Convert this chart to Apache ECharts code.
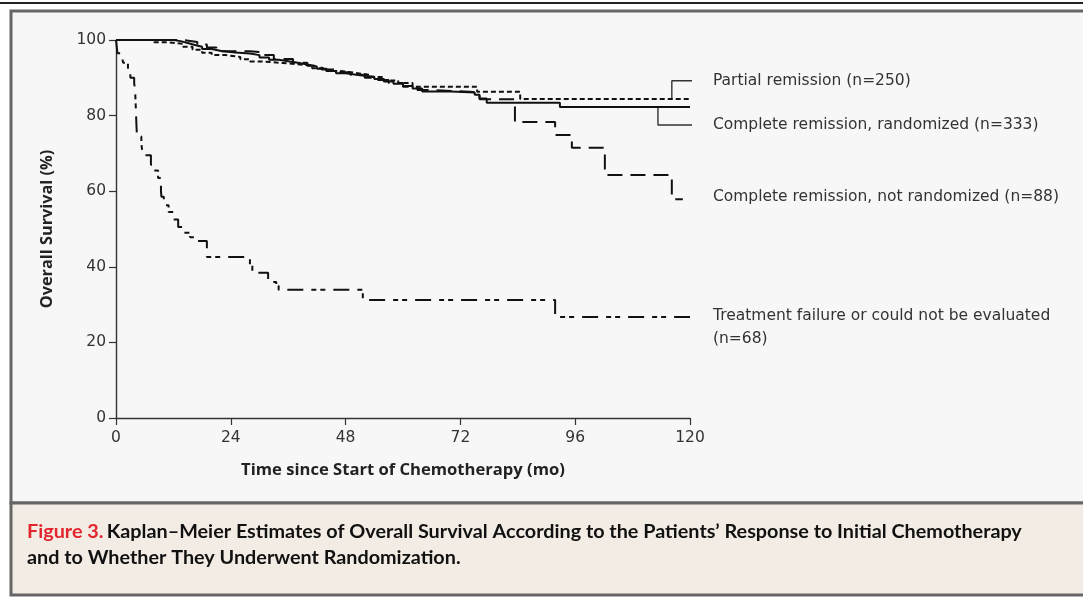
<!DOCTYPE html>
<html>
<head>
<meta charset="utf-8">
<script src="https://cdn.jsdelivr.net/npm/echarts@6/dist/echarts.min.js"></script>
<style>
html,body{margin:0;padding:0;background:#fff;}
#main{width:1083px;height:600px;}
</style>
</head>
<body>
<div id="main"></div>
<script>
// ---- data (time in months, survival in %) ----
const xTicks = [0, 24, 48, 72, 96, 120];
const yTicks = [0, 20, 40, 60, 80, 100];

const partialRemission = [[0,100],[8,99.4],[11,99],[14,98.2],[16,97.4],[18,96.6],[20,96],[23,95.5],[26,94.9],[28,94.3],[31,93.9],[35,93.6],[38,93.2],[41,92.5],[44,91.8],[47,91.3],[50,90.8],[53,90.2],[56,89.3],[59,88.6],[62,87.6],[75.5,86.3],[84.5,84.4],[120,84.4]];

const completeRandomized = [[0,100],[11,100],[12,99.7],[13.5,99.2],[15,98.7],[16.5,98.2],[18,97.6],[20,97.1],[22,96.7],[25,96.4],[28,96.0],[30,95.4],[32,94.8],[34,94.4],[36,94.0],[38,93.5],[40,93.0],[42,92.4],[44,91.8],[46,91.2],[48,90.7],[51,90.3],[54,89.7],[56,89.0],[58,88.4],[60,87.8],[62,87.2],[64,86.4],[70,86.1],[75,85.5],[76,84.5],[77.5,83.4],[92.8,82.3],[120,82.3]];

const completeNotRandomized = [[0,100],[12,100],[14,99.5],[17,98.8],[19,98],[21,97],[28,96.8],[30,96],[33,95],[37,94],[40,93.2],[43,92.2],[46,91.5],[49,90.8],[52,90],[54,89.4],[57,88.6],[60,87.6],[63,86.8],[66,86.3],[74,86],[76,84.3],[83.4,78.3],[91.8,74.9],[95.3,71.5],[102.2,64.3],[116.2,57.9],[118.5,57.9]];

const treatmentFailure = [[0,100],[0.3,96.5],[1.2,95.5],[1.5,94],[2.5,92],[3,90],[3.8,88.6],[4,86.7],[4.2,80],[4.3,76.7],[4.4,74.5],[5.3,72.5],[5.6,69.5],[7.3,67],[7.8,65.5],[8.8,63.5],[9.4,60],[9.5,58.5],[10,56.3],[11,54.5],[12,52.5],[13,50.5],[14,49],[15.5,47.8],[17,46.8],[19,42.6],[28,40.5],[28.5,38.4],[31.8,36],[33.5,35],[34,33.9],[51.6,31.2],[91.8,26.7],[120,26.7]];

// leader lines (data coordinates)
const leaderPartial = [[116.2,84.4],[116.2,89.2],[124.4,89.2]];
const leaderRandomized = [[113.3,82.3],[113.3,77.5],[124.4,77.5]];

const labels = [
  {text:'Partial remission (n=250)', at:[124.8,89.2]},
  {text:'Complete remission, randomized (n=333)', at:[124.8,77.5]},
  {text:'Complete remission, not randomized (n=88)', at:[124.8,58.4]},
  {text:'Treatment failure or could not be evaluated', at:[124.8,27]},
  {text:'(n=68)', at:[124.8,21]}
];

const captionRed = 'Figure 3.';
const captionLine1 = 'Kaplan\u2013Meier Estimates of Overall Survival According to the Patients\u2019 Response to Initial Chemotherapy';
const captionLine2 = 'and to Whether They Underwent Randomization.';

const FONT = 'DejaVu Sans';
const NAMEFONT = 'Open Sans';
const CAPFONT = 'Lato';

const chart = echarts.init(document.getElementById('main'), null, {renderer:'canvas'});

function kmSeries(name, data, type, width) {
  return {
    name, type:'line', data, step:'end', showSymbol:false, symbol:'none',
    silent:true, z:3,
    lineStyle:{color:'#111', width:width, type:type, cap:'butt'}
  };
}
function leader(data){
  return {type:'line', data, showSymbol:false, symbol:'none', silent:true, clip:false,
    lineStyle:{color:'#333', width:1.4}, z:2};
}

const option = {
  backgroundColor:'#ffffff',
  animation:false,
  grid:{left:116, right:393, top:40, bottom:182, containLabel:false},
  xAxis:{
    type:'value', min:0, max:120, interval:24,
    name:'Time since Start of Chemotherapy (mo)', nameLocation:'middle', nameGap:44,
    nameTextStyle:{fontFamily:NAMEFONT, fontWeight:'bold', fontSize:16.6, color:'#222'},
    axisLine:{show:true, onZero:false, lineStyle:{color:'#333', width:1.4}},
    axisTick:{show:true, length:7, lineStyle:{color:'#333', width:1.2}},
    axisLabel:{fontFamily:FONT, fontSize:15.5, color:'#333', margin:12,
      formatter:v=>xTicks.includes(v)?String(v):''},
    splitLine:{show:false}
  },
  yAxis:{
    type:'value', min:0, max:100, interval:20,
    name:'Overall Survival (%)', nameLocation:'middle', nameGap:61, nameRotate:90,
    nameTextStyle:{fontFamily:NAMEFONT, fontWeight:'bold', fontSize:16.3, color:'#222'},
    axisLine:{show:true, onZero:false, lineStyle:{color:'#333', width:1.4}},
    axisTick:{show:true, length:7, lineStyle:{color:'#333', width:1.2}},
    axisLabel:{fontFamily:FONT, fontSize:15.5, color:'#333', margin:10,
      formatter:v=>yTicks.includes(v)?String(v):''},
    splitLine:{show:false}
  },
  series:[
    kmSeries('Partial remission', partialRemission, [5,3], 2),
    kmSeries('Complete remission, randomized', completeRandomized, 'solid', 2),
    kmSeries('Complete remission, not randomized', completeNotRandomized, [15,8], 2),
    kmSeries('Treatment failure', treatmentFailure, [16,8,5,4,5,8], 2),
    leader(leaderPartial),
    leader(leaderRandomized)
  ]
};
chart.setOption(option);

const g = [
  {type:'rect', z:-10, silent:true, shape:{x:0,y:2,width:1083,height:2}, style:{fill:'#222'}},
  {type:'rect', z:-10, silent:true, shape:{x:11,y:11,width:1080,height:492}, style:{fill:'#f7f7f7', stroke:'#666', lineWidth:3}},
  {type:'rect', z:-10, silent:true, shape:{x:11,y:503,width:1080,height:92}, style:{fill:'#f3ece5', stroke:'#666', lineWidth:3}},
  {type:'text', silent:true, left:27, top:522, style:{
    text:'{r|'+captionRed+'} {b|'+captionLine1+'}\n{b|'+captionLine2+'}',
    rich:{
      r:{fill:'#e3262d', fontFamily:CAPFONT, fontWeight:'bold', fontSize:19.8, lineHeight:26},
      b:{fill:'#111', fontFamily:CAPFONT, fontWeight:'bold', fontSize:19.8, lineHeight:26}
    }
  }}
];
labels.forEach(l=>{
  const p = chart.convertToPixel({gridIndex:0}, l.at);
  g.push({type:'text', silent:true, x:p[0], y:p[1], style:{
    text:l.text, fill:'#333', fontFamily:FONT, fontSize:15.5, verticalAlign:'middle', align:'left'
  }});
});
chart.setOption({graphic:g});
</script>
</body>
</html>
